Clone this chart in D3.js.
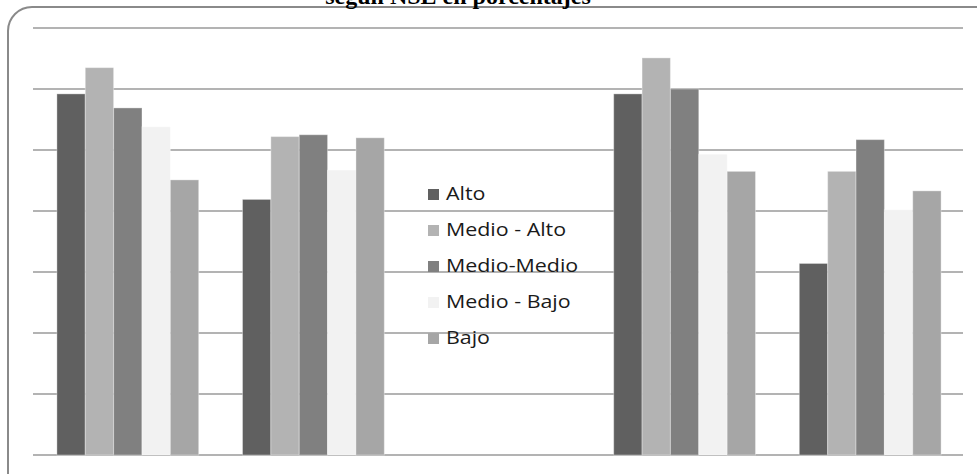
<!DOCTYPE html>
<html><head><meta charset="utf-8">
<script src="https://cdn.jsdelivr.net/npm/d3@7"></script>
<style>html,body{margin:0;padding:0;background:#fff;overflow:hidden}</style>
</head><body>
<svg id="c" width="977" height="474"></svg>
<script>
const titleText = "según NSE en porcentajes";
const categories = ["Grupo 1", "Grupo 2", "", "Grupo 3", "Grupo 4"];
const seriesNames = ["Alto", "Medio - Alto", "Medio-Medio", "Medio - Bajo", "Bajo"];
const seriesColors = ["#606060", "#b3b3b3", "#808080", "#f2f2f2", "#a6a6a6"];
const alto       = [59.2, 41.9, null, 59.2, 31.4];
const medioAlto  = [63.5, 52.2, null, 65.1, 46.5];
const medioMedio = [56.9, 52.5, null, 60.0, 51.7];
const medioBajo  = [53.8, 46.7, null, 49.3, 40.2];
const bajo       = [45.1, 52.0, null, 46.5, 43.3];
const yTicks = [0, 10, 20, 30, 40, 50, 60, 70];

const series = [alto, medioAlto, medioMedio, medioBajo, bajo];
const svg = d3.select("#c");

// outer rounded border (extends past right/bottom edges)
svg.append("rect").attr("x", 8).attr("y", 7).attr("width", 1000).attr("height", 500)
  .attr("rx", 24).attr("ry", 24).attr("fill", "none").attr("stroke", "#8a8a8a").attr("stroke-width", 2);

// title (cut at the top, as in the reference)
svg.append("text").attr("x", 458).attr("y", 3.5).attr("text-anchor", "middle")
  .attr("font-family", "Liberation Serif, Times New Roman, serif").attr("font-weight", "bold")
  .attr("font-size", 24).attr("fill", "#000").text(titleText);

const pLeft = 35, pRight = 963, pTop = 28, pBottom = 455;
const x0 = d3.scaleBand().domain(d3.range(categories.length)).range([pLeft, pRight]).paddingInner(0.236).paddingOuter(0.118);
const x1 = d3.scaleBand().domain(d3.range(seriesNames.length)).range([0, x0.bandwidth()]);
const y = d3.scaleLinear().domain([0, 70]).range([pBottom, pTop]);

// gridlines
svg.append("g").selectAll("line").data(yTicks).join("line")
  .attr("x1", 33).attr("x2", pRight).attr("y1", d => y(d)).attr("y2", d => y(d))
  .attr("stroke", "#9a9a9a").attr("stroke-width", 1.3);

// bars
const g = svg.append("g");
series.forEach((vals, si) => {
  g.append("g").selectAll("rect").data(vals.map((v, ci) => ({v, ci})).filter(d => d.v != null)).join("rect")
    .attr("x", d => x0(d.ci) + x1(si))
    .attr("width", x1.bandwidth())
    .attr("y", d => y(d.v))
    .attr("height", d => y(0) - y(d.v))
    .attr("fill", seriesColors[si])
    .attr("stroke", "rgba(255,255,255,0.35)").attr("stroke-width", 1);
});

// legend
const lg = svg.append("g").attr("transform", "translate(428,194)");
seriesNames.forEach((n, i) => {
  const row = lg.append("g").attr("transform", `translate(0,${i * 36})`);
  row.append("rect").attr("x", 0).attr("y", -5).attr("width", 11).attr("height", 11).attr("fill", seriesColors[i]);
  row.append("text").attr("transform", "translate(18,0) scale(1.19,1)").attr("dy", "0.36em")
    .attr("font-family", "Open Sans, Noto Sans, sans-serif").attr("font-size", 18).attr("fill", "#1a1a1a").text(n);
});
</script>
</body></html>
